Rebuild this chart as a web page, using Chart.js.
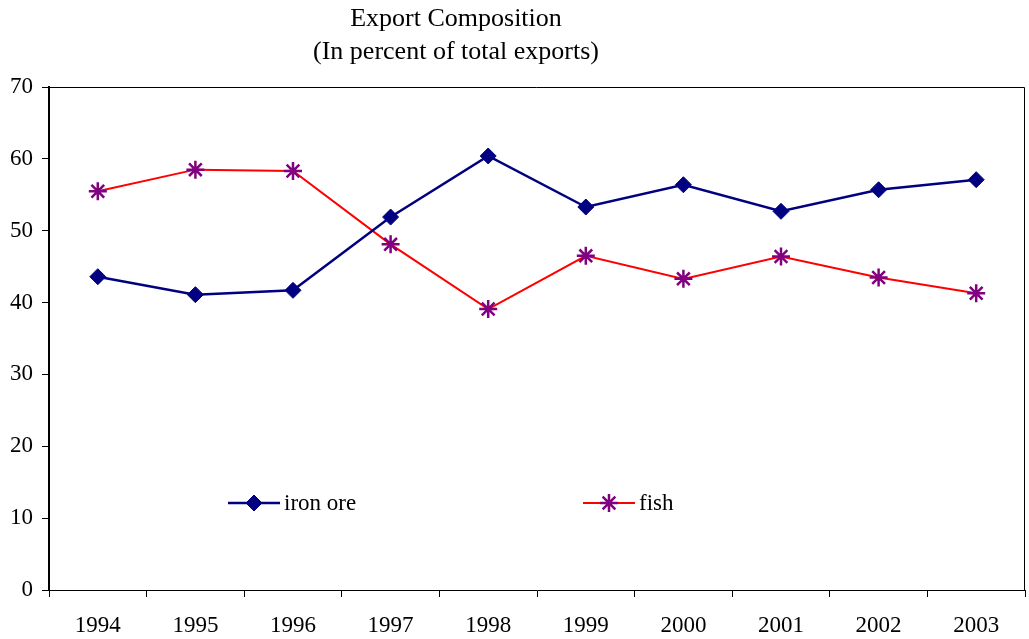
<!DOCTYPE html>
<html>
<head>
<meta charset="utf-8">
<script src="https://cdn.jsdelivr.net/npm/chart.js@4/dist/chart.umd.min.js"></script>
<style>
  body { margin: 0; background: #fff; overflow: hidden; }
  #wrap { width: 1029px; height: 639px; position: relative; }
</style>
</head>
<body>
<div id="wrap"><canvas id="exportChart"></canvas></div>
<script>
const years = ['1994', '1995', '1996', '1997', '1998', '1999', '2000', '2001', '2002', '2003'];
const ironOre = [43.6, 41.1, 41.7, 51.9, 60.4, 53.3, 56.4, 52.7, 55.7, 57.1];
const fish = [55.5, 58.5, 58.3, 48.1, 39.1, 46.5, 43.3, 46.4, 43.5, 41.3];
const titleLines = ['Export Composition', '(In percent of total exports)'];
const serif = "'Liberation Serif', 'DejaVu Serif', serif";

// titre, cadre haut/droite et légende posée dans la zone du graphe
const decorPlugin = {
    id: 'decor',
    afterDraw(chart) {
        const ctx = chart.ctx;
        const a = chart.chartArea;
        const ds = chart.data.datasets;
        ctx.save();
        ctx.fillStyle = '#000';
        ctx.font = '26px ' + serif;
        ctx.textAlign = 'center';
        ctx.textBaseline = 'middle';
        ctx.fillText(titleLines[0], 456, 19);
        ctx.fillText(titleLines[1], 456, 52);

        ctx.strokeStyle = '#000';
        ctx.lineWidth = 1;
        ctx.beginPath();
        ctx.moveTo(a.left, a.top + 0.5);
        ctx.lineTo(a.right - 0.5, a.top + 0.5);
        ctx.lineTo(a.right - 0.5, a.bottom);
        ctx.stroke();

        const xs = [228, 583];
        const y = 503;
        ds.forEach((d, i) => {
            const x = xs[i];
            ctx.strokeStyle = d.borderColor;
            ctx.lineWidth = d.borderWidth;
            ctx.beginPath();
            ctx.moveTo(x, y);
            ctx.lineTo(x + 52, y);
            ctx.stroke();
            ctx.fillStyle = d.pointBackgroundColor;
            ctx.strokeStyle = d.pointBorderColor;
            ctx.lineWidth = d.pointBorderWidth;
            Chart.helpers.drawPoint(ctx, {
                pointStyle: d.pointStyle,
                radius: d.pointRadius,
                rotation: 0,
                borderWidth: d.pointBorderWidth
            }, x + 26, y);
            ctx.fillStyle = '#000';
            ctx.font = '23px ' + serif;
            ctx.textAlign = 'left';
            ctx.fillText(d.label, x + 56, y + 1);
        });
        ctx.restore();
    }
};

const ctx = document.getElementById('exportChart').getContext('2d');
const myChart = new Chart(ctx, {
    type: 'line',
    data: {
        labels: years,
        datasets: [{
            label: 'iron ore',
            data: ironOre,
            borderColor: '#000080',
            backgroundColor: '#000080',
            borderWidth: 2.5,
            pointStyle: 'rectRot',
            pointRadius: 8,
            pointBackgroundColor: '#000080',
            pointBorderColor: '#000080',
            pointBorderWidth: 1,
            tension: 0
        }, {
            label: 'fish',
            data: fish,
            borderColor: '#ff0000',
            backgroundColor: '#ff0000',
            borderWidth: 2,
            pointStyle: 'star',
            pointRadius: 9,
            pointBackgroundColor: '#800080',
            pointBorderColor: '#800080',
            pointBorderWidth: 2.5,
            tension: 0
        }]
    },
    options: {
        responsive: true,
        maintainAspectRatio: false,
        animation: false,
        layout: { autoPadding: false, padding: { top: 87, right: 4, left: 0, bottom: 0 } },
        plugins: {
            legend: { display: false },
            title: { display: false },
            tooltip: { enabled: false }
        },
        scales: {
            x: {
                offset: true,
                grid: {
                    offset: true,
                    drawOnChartArea: false,
                    drawTicks: true,
                    tickLength: 7,
                    color: '#000',
                    lineWidth: 1
                },
                border: { color: '#000', width: 1 },
                ticks: {
                    color: '#000',
                    font: { family: serif, size: 23 },
                    padding: 15,
                    maxRotation: 0
                },
                afterFit(scale) {
                    scale.height = 49;
                    scale.paddingLeft = 0;
                    scale.paddingRight = 0;
                }
            },
            y: {
                min: 0,
                max: 70,
                grid: {
                    drawOnChartArea: false,
                    drawTicks: true,
                    tickLength: 7,
                    color: '#000',
                    lineWidth: 1
                },
                border: { color: '#000', width: 2 },
                ticks: {
                    stepSize: 10,
                    color: '#000',
                    font: { family: serif, size: 23 },
                    padding: 9
                },
                afterFit(scale) {
                    scale.width = 49;
                    scale.paddingTop = 0;
                    scale.paddingBottom = 0;
                }
            }
        }
    },
    plugins: [decorPlugin]
});
</script>
</body>
</html>
